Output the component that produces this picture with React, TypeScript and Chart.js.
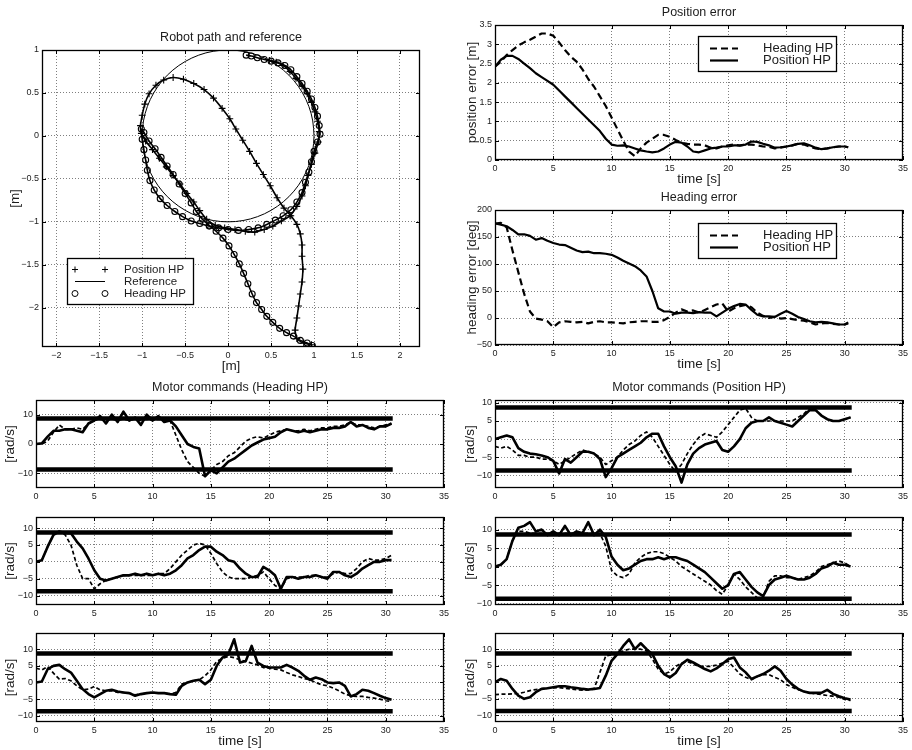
import React, { useEffect, useRef } from "react";
import { Chart, registerables } from "chart.js";

Chart.register(...registerables);

const FONT = "'Liberation Sans', Arial, Helvetica, sans-serif";
const INK = "#1c1c1c";
const GRID = "rgba(0,0,0,0.5)";

// ---------------- data ----------------
// time samples [s]
const T = [
  0, 0.5, 1, 1.5, 2, 2.5, 3, 3.5, 4, 4.5,
  5, 5.5, 6, 6.5, 7, 7.5, 8, 8.5, 9, 9.5,
  10, 10.5, 11, 11.5, 12, 12.5, 13, 13.5, 14, 14.5,
  15, 15.5, 16, 16.5, 17, 17.5, 18, 18.5, 19, 19.5,
  20, 20.5, 21, 21.5, 22, 22.5, 23, 23.5, 24, 24.5,
  25, 25.5, 26, 26.5, 27, 27.5, 28, 28.5, 29, 29.5,
  30, 30.5,
];
const T_ERR = [
  0, 0.5, 1, 1.5, 2, 2.5, 3, 3.5, 4, 4.5,
  5, 5.5, 6, 6.5, 7, 7.5, 8, 8.5, 9, 9.5,
  10, 10.5, 11, 11.5, 12, 12.5, 13, 13.5, 14, 14.5,
  15, 15.5, 16, 16.5, 17, 17.5, 18, 18.5, 19, 19.5,
  20, 20.5, 21, 21.5, 22, 22.5, 23, 23.5, 24, 24.5,
  25, 25.5, 26, 26.5, 27, 27.5, 28, 28.5, 29, 29.5,
  30, 30.3,
];

// Position error [m]
const POS_ERR_HEADING_HP = [
  2.42, 2.55, 2.72, 2.85, 2.97, 3.05, 3.12, 3.2, 3.28, 3.28,
  3.22, 3.05, 2.85, 2.68, 2.55, 2.35, 2.1, 1.9, 1.65, 1.4,
  1.1, 0.8, 0.5, 0.22, 0.1, 0.3, 0.45, 0.55, 0.65, 0.65,
  0.6, 0.52, 0.45, 0.42, 0.4, 0.4, 0.38, 0.32, 0.3, 0.35,
  0.38, 0.4, 0.37, 0.4, 0.4, 0.38, 0.35, 0.34, 0.3, 0.32,
  0.35, 0.38, 0.42, 0.4, 0.35, 0.3, 0.28, 0.3, 0.33, 0.35,
  0.35, 0.33,
];
const POS_ERR_POSITION_HP = [
  2.42, 2.6, 2.7, 2.7, 2.62, 2.5, 2.38, 2.25, 2.15, 2.05,
  1.95, 1.8, 1.65, 1.5, 1.35, 1.2, 1.05, 0.9, 0.75, 0.55,
  0.4, 0.37, 0.38, 0.35, 0.3, 0.25, 0.22, 0.2, 0.22, 0.3,
  0.4, 0.47, 0.45, 0.35, 0.22, 0.2, 0.25, 0.3, 0.32, 0.35,
  0.35, 0.38, 0.38, 0.4, 0.48, 0.47, 0.42, 0.38, 0.32, 0.33,
  0.35, 0.38, 0.42, 0.43, 0.38, 0.32, 0.28, 0.3, 0.33, 0.35,
  0.35, 0.33,
];

// Heading error [deg]
const HEAD_ERR_HEADING_HP = [
  175, 176, 168, 125, 85, 45, 12, -1, -3, -6,
  -17, -8, -6, -7, -8, -7, -10, -7, -6, -8,
  -8, -9, -10, -8, -7, -6, -6, -7, -7, -4,
  2, 10, 16, 12, 14, 10, 15, 20, 25, 27,
  12, 18, 22, 24, 20, 10, 4, 0, 2, -1,
  0, -2, -4, -5, -8, -12, -10, -9, -11, -12,
  -12, -8,
];
const HEAD_ERR_POSITION_HP = [
  175, 173, 170, 163, 155, 155, 152, 145, 148, 143,
  139, 136, 135, 130, 125, 122, 123, 120, 120, 119,
  117, 112, 106, 101, 96, 88, 77, 50, 18, 12,
  12, 8, 10, 10, 9, 11, 10, 10, 3, 10,
  17, 22, 26, 25, 15, 6, 3, 3, 2, 8,
  13, 8, 2, -2, -6, -8, -7, -8, -10, -12,
  -12, -10,
];

// Motor commands [rad/s]  (S = solid line, D = dashed line)
const M1L_S = [
  0, 0.2, 2.5, 4.5, 4.5, 5, 5, 4.5, 4, 7,
  8, 9.5, 7, 10, 7.5, 11, 8, 9, 6.5, 10,
  8, 9.5, 7.5, 8, 6, 3, 0, -1, -1.5, -11,
  -9, -10, -8, -6, -5, -3.5, -2, -0.5, 0.5, 1.5,
  2, 2.5, 4, 5, 4.5, 4, 4.5, 4, 4.5, 5,
  5, 5.5, 5.5, 6, 7.5, 6, 6.5, 5.5, 5, 6,
  6, 7,
];
const M1L_D = [
  0, 0, 1, 4, 6.5, 5, 5, 5.5, 5, 7,
  8, 8.5, 8, 8.5, 8, 8.5, 8, 8.5, 8, 8.5,
  8, 8.5, 8, 8, 3, -2, -6, -8, -10, -11,
  -9, -7, -6, -4, -3, -1, 1, 2, 2.5, 2,
  3, 4, 4.5, 5, 4.5, 4.5, 5, 4.5, 5, 5.5,
  5.5, 6, 6, 6.5, 7.5, 6.5, 6.5, 6, 5.5, 6,
  6.5, 7,
];
const M1R_S = [
  0, 0.5, 1, 0.5, -2.5, -3.5, -4, -4.2, -4.5, -5,
  -6, -9.5, -5.5, -6.5, -5, -3.5, -3.5, -4, -5.5, -10.5,
  -8, -5, -4, -3, -2, -1, 0.5, 1.5, 1.5, -2,
  -5, -7.5, -12, -7, -4, -2.5, -1.5, -1, -0.5, -3,
  -3.5, -2, 0, 3, 4.5, 5, 5, 6, 5, 4.5,
  4, 3.5, 5, 6.5, 8, 8, 6.5, 5.5, 5, 5,
  5.5, 6,
];
const M1R_D = [
  -2, -2.5, -2, -3, -4.5, -4.5, -5, -5, -5.5, -5.5,
  -6, -7, -6, -5, -4, -3, -3.5, -4, -5, -7,
  -6, -5, -3, -1.5, -0.5, 1, 2, 0.5, -2, -4.5,
  -7, -9, -7, -4, -1.5, 0.5, 1.5, 1, 0.5, 2,
  4, 6, 8, 8.5, 6, 5, 5, 5, 5, 5,
  5, 5, 6, 7, 8.5, 8, 6.5, 5.5, 5, 5,
  5.5, 6,
];
const M2L_S = [
  0, 0.5, 4.5, 8, 9, 8.5, 8.5, 6, 4, 1,
  -2.5, -5, -5.5, -5, -4.5, -4, -4, -3.5, -4, -3.5,
  -4, -3.5, -4, -3.5, -2.5, -1, 1, 2, 3.5, 4.5,
  4.5, 3, 2, 0.5, 0, -2, -3.5, -4.5, -4.5, -1.5,
  -2.5, -4, -8, -4.5, -4.5, -5, -4.5, -4.5, -4, -4.5,
  -5, -3, -3, -4, -4.5, -3.5, -2, -1, 0, 0,
  0.5, 0.5,
];
const M2L_D = [
  0, 0.5, 4.5, 8, 9, 8, 5, -1, -5, -5,
  -8, -6.5, -5.5, -5, -4.5, -4, -4, -4, -4, -4,
  -4, -3.5, -3.5, -2, 0, 2, 3.5, 5, 5.5, 5,
  2.5, -0.5, -3, -4.5, -5, -5, -5, -4.5, -4, -3,
  -5, -7, -8, -5, -4.5, -4.5, -4.5, -4, -4, -4.5,
  -4.5, -3.5, -3, -3.5, -3.5, -2, 0, 1, 0.5, 0.5,
  1, 2,
];
const M2R_S = [
  0, 0.5, 2, 7, 10.5, 11, 12, 9.5, 10, 8.5,
  9.5, 8.5, 11, 8.5, 9.5, 9, 12, 8.5, 10, 8,
  2.7, 0.5, -1, -0.5, 0.5, 1.5, 2, 2, 2.5, 2,
  2.5, 2.5, 2, 1.5, 0.5, -0.5, -1.5, -3, -4.5, -6,
  -5, -2, -1.5, -3.5, -5.5, -7, -8, -5, -3.5, -3,
  -2.5, -3, -3.5, -3.5, -3, -2, -0.5, 0, 1, 0.5,
  0.5, 0,
];
const M2R_D = [
  0, 0.5, 2, 7, 9.5, 9.5, 9, 9, 9, 9,
  9, 9, 9, 9, 9, 9, 9, 9, 9, 5.5,
  -1, -2.5, -3, -2, 1, 2.5, 3.5, 4, 4, 3.5,
  2.5, 1.5, 0, -1, -2, -3, -4, -5, -6.5, -7.5,
  -5, -2, -3.5, -5.5, -7, -8.5, -8.5, -4, -2.5, -2.5,
  -3, -3, -3.5, -3, -2.5, -1.5, 0, 0.5, 1, 1.5,
  1, 0,
];
const M3L_S = [
  0, 0.3, 4, 5, 5.3, 4, 3, 0.5, -2, -3.5,
  -4.5, -3.5, -2.5, -2.2, -2.7, -3, -3.2, -4, -3.5, -3.2,
  -3, -3.2, -3.2, -3.5, -3.7, -1, 0, 0.5, 0.8, -0.5,
  0.8, 5, 7.5, 8.5, 13, 6, 6.5, 11, 6, 5,
  4.5, 4.5, 4.5, 5.3, 4.5, 3.5, 2, 0.8, 1.5, 1,
  0, -0.2, 0, -1, -4.2, -3.5, -2.2, -2.5, -3.2, -4,
  -4.7, -5.2,
];
const M3L_D = [
  4.3, 3.8, 4.8, 2.8, 1, 1.2, 0.5, -1, -2.2, -2,
  -1.2, -2.2, -2.5, -2.5, -3, -3, -3.2, -3.7, -3.5, -3.2,
  -3, -3.2, -3.2, -3.5, -3, -0.5, 0, 0.5, 0.8, 2,
  3.8, 6.3, 7.3, 7.8, 7.5, 6.8, 6.3, 5.8, 5.3, 4.5,
  4.3, 4, 3.8, 3, 2.3, 1.8, 1.2, 0.8, 0, -0.7,
  -1, -1.7, -2.5, -3.5, -4, -4.2, -4.2, -4.5, -4.7, -5,
  -5.5, -5.7,
];
const M3R_S = [
  0, 1, 0.5, -2, -4, -5, -4.5, -3, -2, -1.8,
  -1.5, -1.2, -1.2, -1.5, -1.7, -2, -2.2, -2, -1.7, 2,
  6.5, 8.5, 11, 13, 10, 11.8, 10, 8.5, 5, 2.5,
  1.5, 2.8, 5.5, 6.8, 6, 5, 4, 3.3, 4.2, 5.5,
  7, 7.5, 4.5, 3, 1, 1.8, 2.5, 3.5, 4.8, 3.5,
  1, -0.7, -2, -2.8, -3.2, -3.2, -3.2, -2.3, -3.5, -4.2,
  -4.8, -5.2,
];
const M3R_D = [
  -3.7, -3.6, -3.6, -3.5, -3.4, -3, -2.5, -2.2, -2, -1.8,
  -1.7, -1.6, -1.8, -2, -2.2, -2.4, -2.3, -2, 3, 8,
  8.3, 8.5, 9.5, 10, 10, 10, 9.5, 7, 4, 2.5,
  3.2, 4.8, 5.8, 6.3, 5.5, 4.8, 4.8, 4.8, 5.2, 5.8,
  6.3, 4.5, 2.5, 1.5, 0.8, 1.8, 2.3, 2.3, 1.5, 0.8,
  -0.7, -1.5, -2.2, -2.8, -3.2, -3.5, -3.7, -4, -4.2, -4.5,
  -5.2, -5.5,
];

// motor speed saturation lines
const LIMIT_T = [0, 30.6];
const LIMIT_UP = [8.7, 8.7];
const LIMIT_DOWN = [-8.7, -8.7];

// Robot path [m]
const PATH_POS_X = [
  0.97, 0.88, 0.8, 0.78, 0.8, 0.82, 0.84, 0.86, 0.87, 0.86,
  0.86, 0.84, 0.8, 0.73, 0.65, 0.57, 0.49, 0.41, 0.33, 0.25,
  0.17, 0.09, 0.02, -0.07, -0.17, -0.28, -0.4, -0.52, -0.64, -0.75,
  -0.84, -0.92, -0.97, -1.0, -1.02, -1.01, -0.96, -0.88, -0.8, -0.72,
  -0.64, -0.56, -0.48, -0.4, -0.33, -0.25, -0.15, -0.04, 0.08, 0.2,
  0.31, 0.42, 0.52, 0.62, 0.72, 0.8, 0.86, 0.9, 0.93, 0.97,
  1.01, 1.05, 1.06, 1.04, 1.01, 0.97, 0.92, 0.86, 0.79, 0.72,
  0.64, 0.56, 0.48,
];
const PATH_POS_Y = [
  -2.43, -2.41, -2.36, -2.26, -2.12, -1.98, -1.84, -1.7, -1.55, -1.4,
  -1.27, -1.14, -1.03, -0.93, -0.84, -0.72, -0.58, -0.45, -0.32, -0.18,
  -0.05, 0.08, 0.2, 0.32, 0.44, 0.54, 0.61, 0.66, 0.68, 0.65,
  0.59, 0.49, 0.37, 0.24, 0.12, 0.03, -0.06, -0.16, -0.26, -0.36,
  -0.46, -0.56, -0.67, -0.77, -0.87, -0.97, -1.04, -1.07, -1.09, -1.11,
  -1.12, -1.09, -1.05, -0.99, -0.93, -0.82, -0.7, -0.58, -0.46, -0.33,
  -0.2, -0.07, 0.05, 0.17, 0.28, 0.39, 0.49, 0.58, 0.67, 0.75,
  0.82, 0.86, 0.88,
];
const PATH_HEAD_X = [
  0.98, 0.92, 0.84, 0.76, 0.68, 0.6, 0.52, 0.45, 0.39, 0.33,
  0.28, 0.23, 0.18, 0.13, 0.07, 0.01, -0.06, -0.14, -0.22, -0.3,
  -0.37, -0.43, -0.5, -0.57, -0.64, -0.71, -0.78, -0.85, -0.92, -0.98,
  -1.01, -1.0, -0.98, -0.96, -0.94, -0.91, -0.86, -0.79, -0.71, -0.62,
  -0.53, -0.43, -0.33, -0.22, -0.11, 0.0, 0.12, 0.24, 0.35, 0.45,
  0.55, 0.64, 0.73, 0.8, 0.86, 0.9, 0.94, 0.97, 1.0, 1.04,
  1.07, 1.06, 1.04, 1.01, 0.97, 0.92, 0.86, 0.8, 0.73, 0.66,
  0.58, 0.5, 0.42, 0.34, 0.27, 0.21,
];
const PATH_HEAD_Y = [
  -2.44, -2.41, -2.38, -2.33, -2.29, -2.24, -2.17, -2.1, -2.02, -1.94,
  -1.84, -1.72, -1.6, -1.49, -1.38, -1.28, -1.19, -1.11, -1.04, -0.97,
  -0.88, -0.78, -0.67, -0.56, -0.45, -0.35, -0.25, -0.15, -0.06, 0.04,
  0.08, -0.04, -0.16, -0.28, -0.4, -0.52, -0.63, -0.73, -0.81, -0.88,
  -0.94, -0.99, -1.02, -1.05, -1.07, -1.09, -1.1, -1.09, -1.07, -1.03,
  -0.98, -0.93, -0.86, -0.77, -0.66, -0.54, -0.42, -0.3, -0.18, -0.07,
  0.02, 0.12, 0.23, 0.33, 0.43, 0.52, 0.61, 0.69, 0.77, 0.82,
  0.85, 0.87, 0.89, 0.91, 0.93, 0.94,
];
// reference circle (radius 1 m), sampled every 10 degrees
const REF_X = [
  1, 0.985, 0.94, 0.866, 0.766, 0.643, 0.5, 0.342, 0.174, 0,
  -0.174, -0.342, -0.5, -0.643, -0.766, -0.866, -0.94, -0.985, -1, -0.985,
  -0.94, -0.866, -0.766, -0.643, -0.5, -0.342, -0.174, 0, 0.174, 0.342,
  0.5, 0.643, 0.766, 0.866, 0.94, 0.985, 1,
];
const REF_Y = [
  0, 0.174, 0.342, 0.5, 0.643, 0.766, 0.866, 0.94, 0.985, 1,
  0.985, 0.94, 0.866, 0.766, 0.643, 0.5, 0.342, 0.174, 0, -0.174,
  -0.342, -0.5, -0.643, -0.766, -0.866, -0.94, -0.985, -1, -0.985, -0.94,
  -0.866, -0.766, -0.643, -0.5, -0.342, -0.174, 0,
];

// tick values
const X_TICKS_TIME = [0, 5, 10, 15, 20, 25, 30, 35];
const Y_TICKS_POS_ERR = [0, 0.5, 1, 1.5, 2, 2.5, 3, 3.5];
const Y_TICKS_HEAD_ERR = [-50, 0, 50, 100, 150, 200];
const Y_TICKS_MOTOR_10 = [-10, 0, 10];
const Y_TICKS_MOTOR_5 = [-10, -5, 0, 5, 10];
const X_TICKS_PATH = [-2, -1.5, -1, -0.5, 0, 0.5, 1, 1.5, 2];
const Y_TICKS_PATH = [-2, -1.5, -1, -0.5, 0, 0.5, 1];

// ---------------- helpers ----------------
const pts = (xs: number[], ys: number[]) => xs.map((x, i) => ({ x, y: ys[i] }));

const solid = (label: string, xs: number[], ys: number[], w = 2) => ({
  label,
  data: pts(xs, ys),
  borderColor: "#000",
  backgroundColor: "#000",
  borderWidth: w,
  pointRadius: 0,
  fill: false,
  tension: 0,
  borderJoinStyle: "round",
});
const dashed = (label: string, xs: number[], ys: number[], w = 1.6, dash = [4, 3]) => ({
  ...solid(label, xs, ys, w),
  borderDash: dash,
});
const limit = (ys: number[]) => ({
  ...solid("limit", LIMIT_T, ys, 4.5),
  borderCapStyle: "butt",
});

const motorSets = (s: number[], d: number[]) => [
  limit(LIMIT_UP),
  limit(LIMIT_DOWN),
  dashed("Heading HP", T, d, 1.7, [4, 2.5]),
  solid("Position HP", T, s, 2.6),
];

const fmt = (v: number) => (v < 0 ? "\u2212" + String(-v) : String(v));

function drawMarker(ctx: any, style: string, x: number, y: number, r: number) {
  ctx.beginPath();
  if (style === "cross") {
    ctx.moveTo(x - r, y);
    ctx.lineTo(x + r, y);
    ctx.moveTo(x, y - r);
    ctx.lineTo(x, y + r);
  } else {
    ctx.arc(x, y, r, 0, Math.PI * 2);
  }
  ctx.stroke();
}

const framePlugin = {
  id: "axesFrame",
  afterDraw(chart: any) {
    const { ctx, chartArea } = chart;
    const { left, top, right, bottom } = chartArea;
    const xs = chart.scales.x;
    const ys = chart.scales.y;
    const L = 4;
    ctx.save();
    ctx.strokeStyle = "#000";
    ctx.lineWidth = 1;
    ctx.setLineDash([]);
    ctx.beginPath();
    for (const tk of xs.ticks) {
      const p = Math.round(xs.getPixelForValue(tk.value)) + 0.5;
      ctx.moveTo(p, bottom);
      ctx.lineTo(p, bottom - L);
      ctx.moveTo(p, top);
      ctx.lineTo(p, top + L);
    }
    for (const tk of ys.ticks) {
      const p = Math.round(ys.getPixelForValue(tk.value)) + 0.5;
      ctx.moveTo(left, p);
      ctx.lineTo(left + L, p);
      ctx.moveTo(right, p);
      ctx.lineTo(right - L, p);
    }
    ctx.stroke();
    ctx.lineWidth = 1.3;
    ctx.strokeRect(left + 0.5, top + 0.5, right - left - 1, bottom - top - 1);
    ctx.restore();
  },
};

const makeLegendPlugin = (cfg: any) => ({
  id: "boxLegend",
  afterDraw(chart: any) {
    const { ctx, chartArea } = chart;
    const x0 = Math.round(chartArea.left + cfg.dx);
    const y0 = Math.round(chartArea.top + cfg.dy);
    ctx.save();
    ctx.fillStyle = "#fff";
    ctx.fillRect(x0, y0, cfg.w, cfg.h);
    ctx.strokeStyle = "#000";
    ctx.lineWidth = 1.3;
    ctx.strokeRect(x0 + 0.5, y0 + 0.5, cfg.w, cfg.h);
    ctx.font = `${cfg.fontSize}px ${FONT}`;
    ctx.textBaseline = "middle";
    ctx.textAlign = "left";
    cfg.items.forEach((idx: number, k: number) => {
      const ds = chart.data.datasets[idx];
      const y = Math.round(y0 + cfg.rows[k]) + 0.5;
      ctx.strokeStyle = "#000";
      if (ds.pointRadius > 0) {
        ctx.lineWidth = 1;
        ctx.setLineDash([]);
        drawMarker(ctx, ds.pointStyle, x0 + cfg.sx1, y, 3);
        drawMarker(ctx, ds.pointStyle, x0 + cfg.sx2, y, 3);
      } else {
        ctx.lineWidth = ds.borderWidth;
        ctx.setLineDash(ds.borderDash || []);
        ctx.beginPath();
        ctx.moveTo(x0 + cfg.sx1, y);
        ctx.lineTo(x0 + cfg.sx2, y);
        ctx.stroke();
        ctx.setLineDash([]);
      }
      ctx.fillStyle = INK;
      ctx.fillText(ds.label, x0 + cfg.tx, y);
    });
    ctx.restore();
  },
});

// ---------------- panel layout ----------------
const TOP_PAD = 20;
const X_AXIS_H = 28;
const RIGHT_PAD = 12;
const TITLE_SIZE = 12.5;
const LABEL_SIZE = 13.5;
const TICK_SIZE = 9;

const errLegend = (dy: number) => ({
  dx: 203, dy, w: 138, h: 35, rows: [12, 23.5], sx1: 12, sx2: 40, tx: 65, fontSize: 13, items: [0, 1],
});

const PANELS: any[] = [
  {
    area: { l: 42, t: 50, r: 420, b: 347 },
    x: { min: -2.166, max: 2.233, ticks: X_TICKS_PATH },
    y: { min: -2.457, max: 1, ticks: Y_TICKS_PATH },
    title: "Robot path and reference",
    xlabel: "[m]",
    ylabel: "[m]",
    ylabelX: 15,
    datasets: [
      {
        label: "Position HP",
        data: pts(PATH_POS_X, PATH_POS_Y),
        borderColor: "#000",
        borderWidth: 1.6,
        pointStyle: "cross",
        pointRadius: 3.4,
        pointBorderWidth: 1.1,
        pointBorderColor: "#000",
        tension: 0.2,
      },
      {
        label: "Reference",
        data: pts(REF_X, REF_Y),
        borderColor: "#000",
        borderWidth: 1,
        pointRadius: 0,
        tension: 0.35,
      },
      {
        label: "Heading HP",
        data: pts(PATH_HEAD_X, PATH_HEAD_Y),
        borderColor: "#000",
        borderWidth: 1.6,
        pointStyle: "circle",
        pointRadius: 3,
        pointBorderWidth: 1.1,
        pointBorderColor: "#000",
        pointBackgroundColor: "rgba(0,0,0,0)",
        tension: 0.2,
      },
    ],
    legend: { dx: 25, dy: 208, w: 126, h: 46, rows: [11, 23, 34.7], sx1: 8, sx2: 38, tx: 57, fontSize: 11.5, items: [0, 1, 2] },
  },
  {
    area: { l: 495, t: 25, r: 903, b: 160 },
    x: { min: 0, max: 35, ticks: X_TICKS_TIME },
    y: { min: 0, max: 3.5, ticks: Y_TICKS_POS_ERR },
    title: "Position error",
    xlabel: "time [s]",
    ylabel: "position error [m]",
    ylabelX: 472,
    datasets: [
      dashed("Heading HP", T_ERR, POS_ERR_HEADING_HP, 2.2, [7, 4]),
      solid("Position HP", T_ERR, POS_ERR_POSITION_HP, 2.2),
    ],
    legend: errLegend(11),
  },
  {
    area: { l: 495, t: 210, r: 903, b: 345 },
    x: { min: 0, max: 35, ticks: X_TICKS_TIME },
    y: { min: -50, max: 200, ticks: Y_TICKS_HEAD_ERR },
    title: "Heading error",
    xlabel: "time [s]",
    ylabel: "heading error [deg]",
    ylabelX: 472,
    datasets: [
      dashed("Heading HP", T_ERR, HEAD_ERR_HEADING_HP, 2.2, [7, 4]),
      solid("Position HP", T_ERR, HEAD_ERR_POSITION_HP, 2.2),
    ],
    legend: errLegend(13),
  },
  {
    area: { l: 36, t: 400, r: 444, b: 488 },
    x: { min: 0, max: 35, ticks: X_TICKS_TIME },
    y: { min: -15, max: 15, ticks: Y_TICKS_MOTOR_10 },
    title: "Motor commands (Heading HP)",
    ylabel: "[rad/s]",
    ylabelX: 10,
    datasets: motorSets(M1L_S, M1L_D),
  },
  {
    area: { l: 495, t: 400, r: 903, b: 488 },
    x: { min: 0, max: 35, ticks: X_TICKS_TIME },
    y: { min: -13.5, max: 10.8, ticks: Y_TICKS_MOTOR_5 },
    title: "Motor commands (Position HP)",
    ylabel: "[rad/s]",
    ylabelX: 470,
    datasets: motorSets(M1R_S, M1R_D),
  },
  {
    area: { l: 36, t: 517, r: 444, b: 605 },
    x: { min: 0, max: 35, ticks: X_TICKS_TIME },
    y: { min: -12.8, max: 13.3, ticks: Y_TICKS_MOTOR_5 },
    ylabel: "[rad/s]",
    ylabelX: 10,
    datasets: motorSets(M2L_S, M2L_D),
  },
  {
    area: { l: 495, t: 517, r: 903, b: 605 },
    x: { min: 0, max: 35, ticks: X_TICKS_TIME },
    y: { min: -10.4, max: 13.4, ticks: Y_TICKS_MOTOR_5 },
    ylabel: "[rad/s]",
    ylabelX: 470,
    datasets: motorSets(M2R_S, M2R_D),
  },
  {
    area: { l: 36, t: 633, r: 444, b: 722 },
    x: { min: 0, max: 35, ticks: X_TICKS_TIME },
    y: { min: -11.9, max: 14.9, ticks: Y_TICKS_MOTOR_5 },
    xlabel: "time [s]",
    ylabel: "[rad/s]",
    ylabelX: 10,
    datasets: motorSets(M3L_S, M3L_D),
  },
  {
    area: { l: 495, t: 633, r: 903, b: 722 },
    x: { min: 0, max: 35, ticks: X_TICKS_TIME },
    y: { min: -12, max: 14.9, ticks: Y_TICKS_MOTOR_5 },
    xlabel: "time [s]",
    ylabel: "[rad/s]",
    ylabelX: 470,
    datasets: motorSets(M3R_S, M3R_D),
  },
];

const geom = (p: any) => {
  const left = p.ylabelX - 9;
  const top = p.area.t - TOP_PAD;
  return { left, top, w: p.area.r + RIGHT_PAD - left, h: p.area.b + X_AXIS_H - top };
};

function buildChart(canvas: HTMLCanvasElement, p: any) {
  const g = geom(p);
  const yW = p.area.l - g.left;
  const tickFont = { family: FONT, size: TICK_SIZE };
  const labelFont = { family: FONT, size: LABEL_SIZE };
  const lh = LABEL_SIZE * 1.2;
  const plugins: any[] = [framePlugin];
  if (p.legend) plugins.push(makeLegendPlugin(p.legend));
  return new Chart(canvas, {
    type: "line",
    data: { datasets: p.datasets },
    options: {
      responsive: false,
      maintainAspectRatio: false,
      animation: false,
      devicePixelRatio: 1,
      events: [],
      layout: { padding: { left: 0, right: RIGHT_PAD, top: p.title ? 0 : TOP_PAD, bottom: 0 } },
      plugins: {
        legend: { display: false },
        tooltip: { enabled: false },
        title: {
          display: !!p.title,
          text: p.title || "",
          fullSize: false,
          color: INK,
          font: { family: FONT, size: TITLE_SIZE, weight: "normal" },
          padding: { top: 8 - (TITLE_SIZE * 1.2) / 2, bottom: TOP_PAD - 8 - (TITLE_SIZE * 1.2) / 2 },
        },
      },
      scales: {
        x: {
          type: "linear",
          min: p.x.min,
          max: p.x.max,
          afterBuildTicks: (s: any) => {
            s.ticks = p.x.ticks.map((v: number) => ({ value: v }));
          },
          afterFit: (s: any) => {
            s.height = X_AXIS_H;
          },
          grid: { color: GRID, lineWidth: 1, drawTicks: false },
          border: { display: false, dash: [1, 2] },
          ticks: {
            color: INK,
            font: tickFont,
            padding: 3,
            maxRotation: 0,
            autoSkip: false,
            callback: (v: any) => fmt(Number(v)),
          },
          title: {
            display: !!p.xlabel,
            text: p.xlabel || "",
            color: INK,
            font: labelFont,
            padding: { top: 0, bottom: X_AXIS_H - 19 - lh / 2 },
          },
        },
        y: {
          type: "linear",
          min: p.y.min,
          max: p.y.max,
          afterBuildTicks: (s: any) => {
            s.ticks = p.y.ticks.map((v: number) => ({ value: v }));
          },
          afterFit: (s: any) => {
            s.width = yW;
          },
          grid: { color: GRID, lineWidth: 1, drawTicks: false },
          border: { display: false, dash: [1, 2] },
          ticks: {
            color: INK,
            font: tickFont,
            padding: 3,
            autoSkip: false,
            callback: (v: any) => fmt(Number(v)),
          },
          title: {
            display: true,
            text: p.ylabel,
            color: INK,
            font: labelFont,
            padding: { top: 9 - lh / 2, bottom: 0 },
          },
        },
      },
    } as any,
    plugins,
  });
}

export default function App() {
  const refs = useRef<(HTMLCanvasElement | null)[]>([]);

  useEffect(() => {
    Chart.defaults.font.family = FONT;
    const charts = PANELS.map((p, i) => buildChart(refs.current[i] as HTMLCanvasElement, p));
    return () => charts.forEach((c) => c.destroy());
  }, []);

  return (
    <div
      style={{
        position: "absolute",
        left: 0,
        top: 0,
        width: 912,
        height: 750,
        background: "#fff",
        overflow: "hidden",
      }}
    >
      {PANELS.map((p, i) => {
        const g = geom(p);
        return (
          <canvas
            key={i}
            ref={(el) => {
              refs.current[i] = el;
            }}
            width={g.w}
            height={g.h}
            style={{ position: "absolute", left: g.left, top: g.top, width: g.w, height: g.h, display: "block" }}
          />
        );
      })}
    </div>
  );
}
